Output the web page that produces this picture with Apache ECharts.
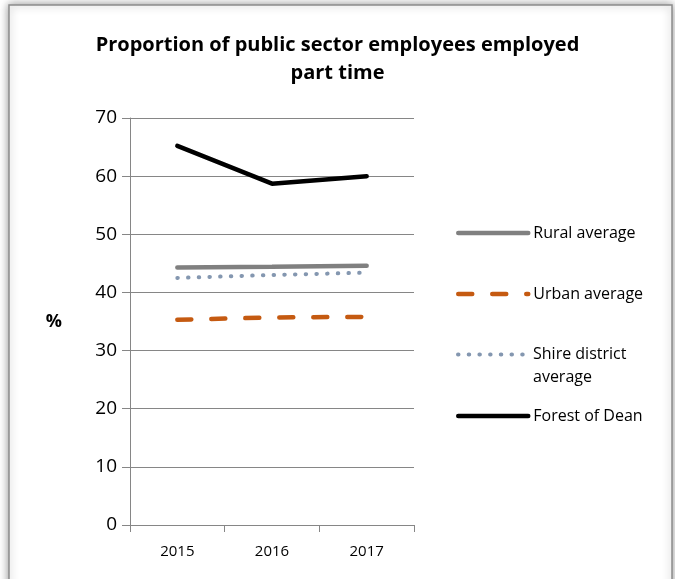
<!DOCTYPE html>
<html>
<head>
<meta charset="utf-8">
<script src="https://cdn.jsdelivr.net/npm/echarts@6/dist/echarts.min.js"></script>
<style>
  html, body { margin: 0; padding: 0; background: #fff; }
  #main { width: 675px; height: 579px; }
</style>
</head>
<body>
<div id="main"></div>
<script>
// 数据
var years = ['2015', '2016', '2017'];
var rural = [44.3, 44.4, 44.6];
var urban = [35.3, 35.7, 35.8];
var shire = [42.5, 43.0, 43.4];
var forest = [65.2, 58.7, 60.0];
var yTicks = { min: 0, max: 70, interval: 10 };

var chart = echarts.init(document.getElementById('main'));

// 图例（每项单独定位）
function legendItem (name, top, width, extra) {
  return Object.assign({
    data: [name],
    orient: 'vertical',
    left: 456,
    top: top,
    padding: 0,
    itemWidth: 70,
    itemHeight: 14,
    itemGap: 6,
    itemStyle: { opacity: 0 },
    lineStyle: { width: width },
    textStyle: {
      fontFamily: 'Open Sans',
      fontSize: 16,
      color: '#000'
    }
  }, extra || {});
}

var option = {
  animation: false,
  title: {
    text: 'Proportion of public sector employees employed\npart time',
    left: 'center',
    top: 26,
    textStyle: {
      fontFamily: 'Open Sans',
      fontWeight: 'bold',
      fontSize: 20,
      lineHeight: 28,
      color: '#000'
    }
  },
  graphic: [
    {
      type: 'rect',
      shape: { x: 9, y: 5, width: 663, height: 620 },
      style: {
        fill: '#fff',
        stroke: '#8C8C8C',
        lineWidth: 1.5,
        shadowBlur: 9,
        shadowOffsetX: 0,
        shadowOffsetY: 0,
        shadowColor: 'rgba(0,0,0,0.4)'
      },
      z: -10
    }
  ],
  legend: [
    legendItem('Rural average', 225, 4.5),
    legendItem('Urban average', 286, 4.5),
    legendItem('Shire district average', 320, 4, {
      formatter: function () { return '\nShire district\naverage'; },
      textStyle: {
        fontFamily: 'Open Sans',
        fontSize: 16,
        color: '#000',
        lineHeight: 23
      }
    }),
    legendItem('Forest of Dean', 408, 4.5)
  ],
  grid: {
    left: 130,
    right: 261,
    top: 118,
    bottom: 54
  },
  xAxis: {
    type: 'category',
    data: years,
    boundaryGap: true,
    axisLine: { lineStyle: { color: '#868686' } },
    axisTick: { show: true, length: 7, lineStyle: { color: '#868686' } },
    axisLabel: {
      fontFamily: 'Open Sans',
      fontSize: 15,
      color: '#000',
      margin: 19
    }
  },
  yAxis: {
    type: 'value',
    min: yTicks.min,
    max: yTicks.max,
    interval: yTicks.interval,
    name: '%',
    nameLocation: 'middle',
    nameRotate: 0,
    nameGap: 68,
    nameTextStyle: {
      fontFamily: 'Open Sans',
      fontWeight: 'bold',
      fontSize: 18,
      color: '#000'
    },
    axisLine: { show: true, lineStyle: { color: '#868686' } },
    axisTick: { show: true, length: 8, lineStyle: { color: '#868686' } },
    splitLine: { lineStyle: { color: '#868686' } },
    axisLabel: {
      fontFamily: 'Open Sans',
      fontSize: 19,
      color: '#000',
      margin: 13
    }
  },
  series: [
    {
      name: 'Rural average',
      type: 'line',
      data: rural,
      symbol: 'none',
      color: '#808080',
      lineStyle: { width: 4.5, color: '#808080', cap: 'round' }
    },
    {
      name: 'Urban average',
      type: 'line',
      data: urban,
      symbol: 'none',
      color: '#C55A11',
      lineStyle: { width: 4.5, color: '#C55A11', type: [14, 20], cap: 'round' }
    },
    {
      name: 'Shire district average',
      type: 'line',
      data: shire,
      symbol: 'none',
      color: '#8497B0',
      lineStyle: { width: 4, color: '#8497B0', type: [0.5, 10.2], cap: 'round' }
    },
    {
      name: 'Forest of Dean',
      type: 'line',
      data: forest,
      symbol: 'none',
      color: '#000',
      lineStyle: { width: 4.5, color: '#000', cap: 'round' }
    }
  ]
};

chart.setOption(option);
</script>
</body>
</html>
